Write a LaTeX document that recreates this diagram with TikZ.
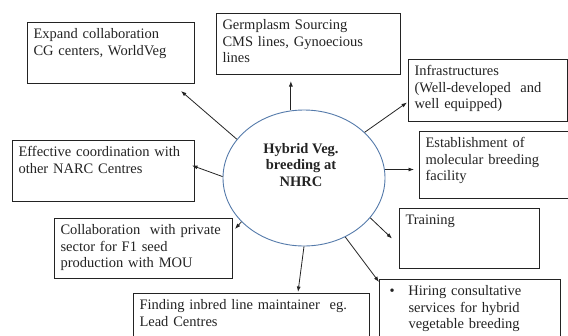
\documentclass[tikz,border=0pt]{standalone}
\usepackage{fontspec}
\setmainfont{Liberation Serif}
\usetikzlibrary{shapes.geometric, arrows.meta}
\definecolor{hubblue}{RGB}{84,122,170}
\definecolor{inkgray}{RGB}{35,35,35}
\tikzset{
  box/.style={draw=inkgray, line width=1pt, anchor=north west, align=left, text width=#1,
    inner xsep=6pt, inner ysep=5.5pt, text height=10.5pt, text=inkgray,
    font=\fontsize{14.5}{16.5}\selectfont},
  spoke/.style={draw=inkgray, line width=0.8pt, -{Latex[length=5.5pt,width=4pt]}}
}

\begin{document}
\begin{tikzpicture}[x=1pt, y=-1pt]
\useasboundingbox (0,0) rectangle (568,335);
\clip (0,0) rectangle (568,335);
% centre
\node[ellipse, draw=hubblue, line width=0.9pt, minimum width=162pt, minimum height=136pt, inner sep=0pt] (hub) at (304,178) {};
\node[align=center, inner sep=0pt, text=inkgray, font=\fontsize{14.5}{16.5}\selectfont\bfseries] (hubtext) at (301,165) {Hybrid Veg.\\breeding at\\NHRC};
% boxes round the centre
\node[box=155pt, text depth=39.5pt] (expand) at (27,22) {Expand collaboration\\CG centers, WorldVeg};
\node[box=172pt, text depth=39.5pt] (germ) at (216,13) {Germplasm Sourcing\\CMS lines, Gynoecious\\lines};
\node[box=147pt, text depth=40.5pt] (infra) at (408,59) {Infrastructures\\(Well-developed~ and\\well equipped)};
\node[box=140pt, text depth=45.5pt] (estab) at (419,131) {Establishment of\\molecular breeding\\facility};
\node[box=128pt, text depth=38.5pt] (train) at (399,208) {Training};
\node[box=169pt, text depth=48.5pt] (hiring) at (379,279) {\hspace*{4pt}\makebox[19pt][l]{\textbullet}Hiring consultative\\\hspace*{23pt}services for hybrid\\\hspace*{23pt}vegetable breeding};
\node[box=224pt, text depth=38.5pt] (finding) at (133,293) {Finding inbred line maintainer~ eg.\\Lead Centres};
\node[box=166pt, text depth=38.5pt] (collab) at (54,218) {Collaboration~ with private\\sector for F1 seed\\production with MOU};
\node[box=170pt, text depth=39.5pt] (effect) at (12,140) {Effective coordination with\\other NARC Centres};
% spokes
\draw[spoke] (hub.150) -- ([shift={(-14pt,-7pt)}]expand.south east);
\draw[spoke] (hub.101) -- ([yshift=-6pt]hub.101 |- germ.south);
\draw[spoke] (hub.37) -- ([shift={(-1pt,-12pt)}]infra.west);
\draw[spoke] (hub.6) -- ([xshift=-5pt]estab.west |- hub.6);
\draw[spoke] (hub.329) -- ([xshift=-7pt]train.west);
\draw[spoke] (hub.305) -- ([yshift=-3pt]hiring.north west);
\draw[spoke] (hub.270) -- ([shift={(-72pt,1pt)}]finding.north east);
\draw[spoke] (hub.215) -- ([shift={(2pt,-11pt)}]collab.north east);
\draw[spoke] (hub.179) -- ([shift={(-3pt,5.5pt)}]effect.east);
\end{tikzpicture}
\end{document}
